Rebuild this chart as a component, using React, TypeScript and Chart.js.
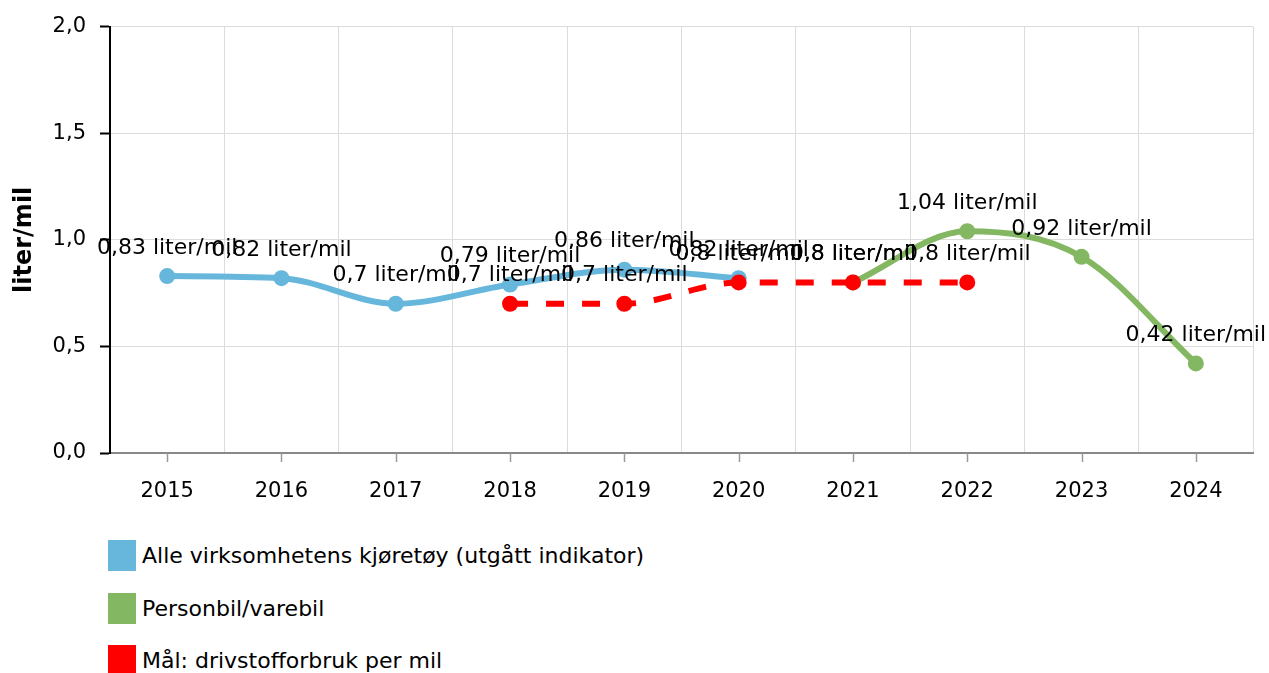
import React, { useEffect, useRef } from "react";
import { Chart, registerables } from "chart.js";

Chart.register(...registerables);

const years = ["2015", "2016", "2017", "2018", "2019", "2020", "2021", "2022", "2023", "2024"];
const alleKjoretoy = [0.83, 0.82, 0.7, 0.79, 0.86, 0.82, null, null, null, null];
const personbil = [null, null, null, null, null, null, 0.8, 1.04, 0.92, 0.42];
const maal = [null, null, null, 0.7, 0.7, 0.8, 0.8, 0.8, null, null];
const yTicks = [0, 0.5, 1.0, 1.5, 2.0];

const BLUE = "#67b7dc";
const GREEN = "#84b761";
const RED = "#ff0000";
const FONT = "'DejaVu Sans', Verdana, sans-serif";

const fmt = (v: number) => String(v).replace(".", ",");

const labelPlugin = {
  id: "pointLabels",
  afterDatasetsDraw(chart: any) {
    const ctx = chart.ctx;
    ctx.save();
    ctx.font = `22px ${FONT}`;
    ctx.fillStyle = "#000";
    ctx.textAlign = "center";
    ctx.textBaseline = "middle";
    chart.data.datasets.forEach((ds: any, i: number) => {
      const meta = chart.getDatasetMeta(i);
      meta.data.forEach((pt: any, j: number) => {
        const v = ds.data[j];
        if (v === null || v === undefined) return;
        ctx.fillText(`${fmt(v)} liter/mil`, pt.x, pt.y - 28);
      });
    });
    ctx.restore();
  },
};

const xTickPlugin = {
  id: "xTickMarks",
  afterDraw(chart: any) {
    const x = chart.scales.x;
    const ctx = chart.ctx;
    ctx.save();
    ctx.strokeStyle = "#999";
    ctx.lineWidth = 1.5;
    years.forEach((_, i) => {
      const px = Math.round(x.getPixelForValue(i)) + 0.5;
      ctx.beginPath();
      ctx.moveTo(px, x.top);
      ctx.lineTo(px, x.top + 9);
      ctx.stroke();
    });
    ctx.restore();
  },
};

const legendItems = [
  { label: "Alle virksomhetens kjøretøy (utgått indikator)", color: BLUE },
  { label: "Personbil/varebil", color: GREEN },
  { label: "Mål: drivstofforbruk per mil", color: RED },
];

export default function App() {
  const ref = useRef<HTMLCanvasElement | null>(null);

  useEffect(() => {
    document.body.style.margin = "0";
    Chart.defaults.font.family = FONT;
    const lineCommon = {
      borderWidth: 6,
      pointRadius: 8,
      pointHoverRadius: 8,
      pointBorderWidth: 0,
      cubicInterpolationMode: "monotone" as const,
      spanGaps: false,
      fill: false,
    };
    const chart = new Chart(ref.current!, {
      type: "line",
      data: {
        labels: years,
        datasets: [
          {
            label: "Alle virksomhetens kjøretøy (utgått indikator)",
            data: alleKjoretoy,
            borderColor: BLUE,
            backgroundColor: BLUE,
            pointBackgroundColor: BLUE,
            order: 2,
            ...lineCommon,
          },
          {
            label: "Personbil/varebil",
            data: personbil,
            borderColor: GREEN,
            backgroundColor: GREEN,
            pointBackgroundColor: GREEN,
            order: 1,
            ...lineCommon,
          },
          {
            label: "Mål: drivstofforbruk per mil",
            data: maal,
            borderColor: RED,
            backgroundColor: RED,
            pointBackgroundColor: RED,
            borderDash: [18, 18],
            order: 0,
            ...lineCommon,
          },
        ],
      },
      options: {
        animation: false,
        responsive: false,
        maintainAspectRatio: false,
        layout: { padding: { top: 24, right: 16, bottom: 0, left: 0 } },
        plugins: {
          legend: { display: false },
          tooltip: { enabled: false },
        },
        scales: {
          x: {
            offset: true,
            grid: {
              offset: true,
              color: "#dcdcdc",
              lineWidth: 1,
              drawTicks: false,
            },
            border: { color: "#888", width: 2 },
            ticks: { color: "#000", font: { size: 21 }, padding: 26, maxRotation: 0, autoSkip: false },
            afterFit(scale: any) {
              scale.height = 67;
            },
          },
          y: {
            min: 0,
            max: 2,
            afterBuildTicks(scale: any) {
              scale.ticks = yTicks.map((v) => ({ value: v }));
            },
            grid: { color: "#dcdcdc", lineWidth: 1, tickLength: 10, tickColor: "#000", tickWidth: 2 },
            border: { color: "#000", width: 2 },
            ticks: {
              color: "#000",
              font: { size: 21 },
              padding: 14,
              callback: (v: any) => Number(v).toFixed(1).replace(".", ","),
            },
            title: {
              display: true,
              text: "liter/mil",
              color: "#000",
              font: { size: 24, weight: "bold" },
              padding: { top: 10, bottom: 0 },
            },
            afterFit(scale: any) {
              scale.width = 110;
            },
          },
        },
      },
      plugins: [labelPlugin, xTickPlugin],
    });
    return () => chart.destroy();
  }, []);

  return (
    <div style={{ position: "relative", width: 1269, height: 673, fontFamily: FONT }}>
      <canvas ref={ref} width={1269} height={520} style={{ display: "block", width: 1269, height: 520 }} />
      {legendItems.map((it, i) => (
        <div
          key={it.label}
          style={{
            position: "absolute",
            left: 108,
            top: 540 + i * 52.5,
            height: 31,
            display: "flex",
            alignItems: "center",
          }}
        >
          <span style={{ display: "inline-block", width: 28, height: 31, background: it.color, marginRight: 6 }} />
          <span style={{ fontSize: 22, color: "#000", whiteSpace: "nowrap" }}>{it.label}</span>
        </div>
      ))}
    </div>
  );
}
